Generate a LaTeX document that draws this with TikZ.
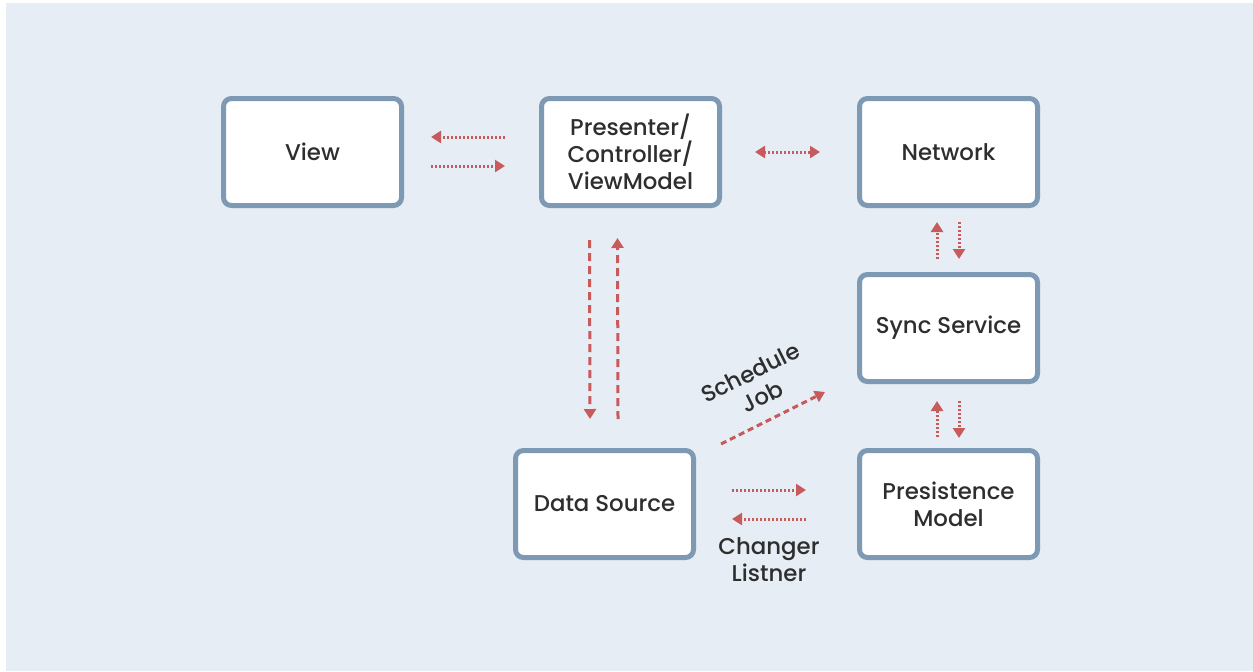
\documentclass[tikz,border=0pt]{standalone}
\usepackage{fontspec}
\setmainfont{Poppins}[UprightFont=* Medium]
\usetikzlibrary{positioning,arrows.meta}
\definecolor{paleblue}{HTML}{E6EDF5}
\definecolor{boxblue}{HTML}{7D99B3}
\definecolor{flowred}{HTML}{C75B5C}
\definecolor{inkgrey}{HTML}{2E2E2E}

\begin{document}
\begin{tikzpicture}[every node/.style={text=inkgrey, font=\fontsize{13}{15.2}\selectfont},
                    block/.style={draw=boxblue, line width=0.1cm, rounded corners=0.16cm, fill=white, align=center,
                                  minimum width=3.56cm, minimum height=2.14cm},
                    dotflow/.style={flowred, line width=0.06cm, dash pattern=on 0.04cm off 0.04cm,
                                    -{Triangle[length=0.2cm, width=0.24cm]}},
                    dashflow/.style={flowred, line width=0.06cm, dash pattern=on 0.16cm off 0.1cm,
                                     -{Triangle[length=0.2cm, width=0.24cm]}},
                    lbl/.style={align=center, inner sep=0pt}]
        % backdrop
        \fill[white] (0,0) rectangle (25.06,-13.42);
        \fill[paleblue] (0.12,-0.06) rectangle (25.06,-13.42);
        \useasboundingbox (0,0) rectangle (25.06,-13.42);

        \node (view) [block] at (6.25,-3.04) {View};
        \node (pres) [block, right = 2.7cm of view] {Presenter/\\Controller/\\ViewModel};
        \node (net)  [block, right = 2.7cm of pres] {Network};
        \node (sync) [block, below = 1.28cm of net] {Sync Service};
        \node (pers) [block, below = 1.28cm of sync] {Presistence\\Model};
        \node (data) [block, left = 3.22cm of pers] {Data Source};

        % view <-> presenter
        \draw[dotflow] ([xshift=-0.68cm, yshift=0.3cm]pres.west) -- ([xshift=0.54cm, yshift=0.3cm]view.east);
        \draw[dotflow] ([xshift=0.54cm, yshift=-0.28cm]view.east) -- ([xshift=-0.68cm, yshift=-0.28cm]pres.west);

        % presenter <-> network
        \draw[dotflow, {Triangle[length=0.2cm, width=0.24cm]}-{Triangle[length=0.2cm, width=0.24cm]}]
            ([xshift=0.66cm]pres.east) -- ([xshift=-0.74cm]net.west);

        % presenter <-> data source
        \draw[dashflow] ([xshift=-0.82cm, yshift=-0.64cm]pres.south) -- ([xshift=-0.29cm, yshift=0.58cm]data.north);
        \draw[dashflow] ([xshift=0.27cm, yshift=0.58cm]data.north) -- ([xshift=-0.26cm, yshift=-0.6cm]pres.south);

        % network <-> sync
        \draw[dotflow] ([xshift=-0.23cm, yshift=0.26cm]sync.north) -- ([xshift=-0.23cm, yshift=-0.28cm]net.south);
        \draw[dotflow] ([xshift=0.21cm, yshift=-0.28cm]net.south) -- ([xshift=0.21cm, yshift=0.26cm]sync.north);

        % sync <-> persistence
        \draw[dotflow] ([xshift=-0.23cm, yshift=0.22cm]pers.north) -- ([xshift=-0.23cm, yshift=-0.34cm]sync.south);
        \draw[dotflow] ([xshift=0.21cm, yshift=-0.34cm]sync.south) -- ([xshift=0.21cm, yshift=0.2cm]pers.north);

        % data source -> sync
        \draw[dashflow, dash pattern=on 0.12cm off 0.08cm] ([xshift=0.5cm, yshift=0.08cm]data.north east) -- ([xshift=-0.64cm, yshift=-0.16cm]sync.south west)
            node[lbl, midway, sloped, above=0.28cm] {Schedule\\Job};

        % data source <-> persistence
        \draw[dotflow] ([xshift=0.72cm, yshift=0.28cm]data.east) -- ([xshift=-1.02cm, yshift=0.28cm]pers.west);
        \draw[dotflow] ([xshift=-1.02cm, yshift=-0.3cm]pers.west) -- ([xshift=0.72cm, yshift=-0.3cm]data.east)
            node[lbl, midway, below=0.34cm] {Changer\\Listner};
    \end{tikzpicture}
\end{document}
